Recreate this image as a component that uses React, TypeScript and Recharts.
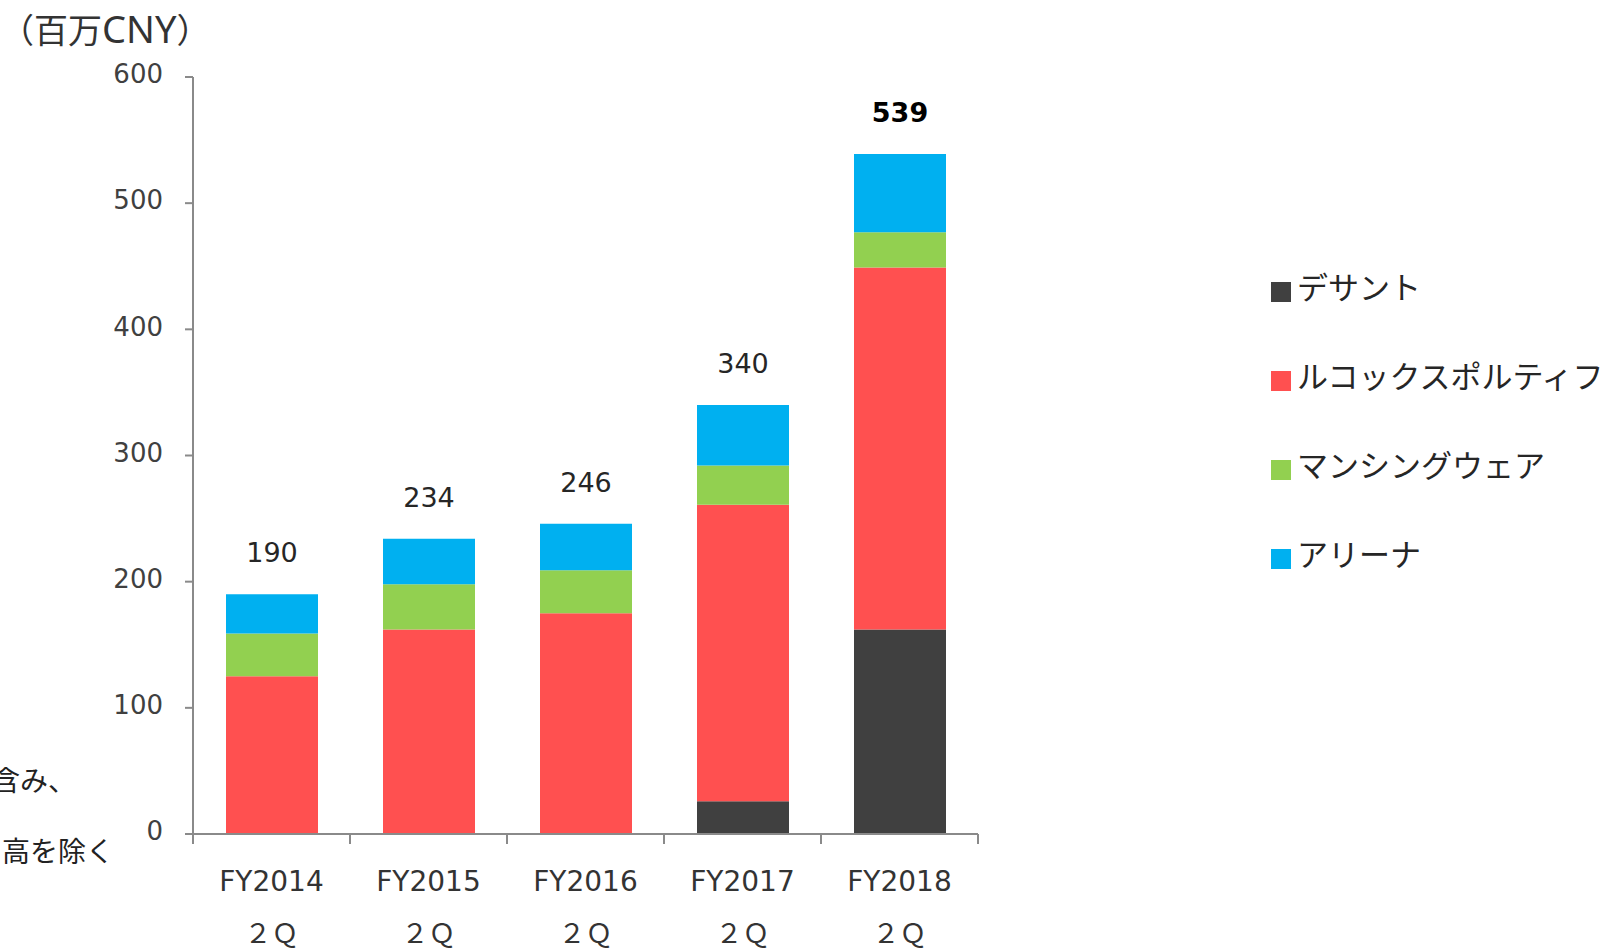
import { BarChart, Bar, XAxis, YAxis, LabelList } from "recharts";

const categories = ["FY2014", "FY2015", "FY2016", "FY2017", "FY2018"];
const quarter = "２Ｑ";

// 百万CNY, stacked bottom → top
const descente = [0, 0, 0, 26, 162];
const lecoq = [125, 162, 175, 235, 287];
const munsingwear = [34, 36, 34, 31, 28];
const arena = [31, 36, 37, 48, 62];
const totals = [190, 234, 246, 340, 539];

const yTicks = [0, 100, 200, 300, 400, 500, 600];

const SERIES = [
  { key: "descente", name: "デサント", color: "#404040", values: descente },
  { key: "lecoq", name: "ルコックスポルティフ", color: "#FF5050", values: lecoq },
  { key: "munsing", name: "マンシングウェア", color: "#92D050", values: munsingwear },
  { key: "arena", name: "アリーナ", color: "#00B0F0", values: arena },
];

const data = categories.map((cat, i) => {
  const row: Record<string, string | number> = { cat, total: totals[i] };
  SERIES.forEach((s) => (row[s.key] = s.values[i]));
  return row;
});

const AXIS = "#8a8a8a";
const LATIN = "'DejaVu Sans', Verdana, sans-serif";
const JP = "'Noto Sans CJK JP', sans-serif";

function CategoryTick(props: any) {
  const { x, y, payload, index, visibleTicksCount } = props;
  const half = payload?.offset ?? 78.5;
  const isLast = index === visibleTicksCount - 1;
  return (
    <g>
      <line x1={x - half} x2={x - half} y1={y} y2={y + 10} stroke={AXIS} strokeWidth={2} />
      {isLast && <line x1={x + half} x2={x + half} y1={y} y2={y + 10} stroke={AXIS} strokeWidth={2} />}
      <text x={x} y={y + 57} textAnchor="middle" fontSize={28} fill="#333" fontFamily={LATIN}>
        {payload.value}
      </text>
      <text x={x} y={y + 109} textAnchor="middle" fontSize={27} fill="#333" fontFamily={JP}>
        {quarter}
      </text>
    </g>
  );
}

function TotalLabel(props: any) {
  const { x, y, width, value, index } = props;
  const last = index === categories.length - 1;
  return (
    <text
      x={x + width / 2}
      y={y - 32}
      textAnchor="middle"
      fontSize={27}
      fontWeight={last ? "bold" : "normal"}
      fill={last ? "#000" : "#262626"}
      fontFamily={LATIN}
    >
      {value}
    </text>
  );
}

export default function App() {
  return (
    <div style={{ position: "fixed", left: 0, top: 0, width: 1607, height: 952, background: "#fff" }}>
      <BarChart
        width={1000}
        height={952}
        data={data}
        margin={{ top: 77, right: 22, bottom: 0, left: 0 }}
        barSize={92}
      >
        <YAxis
          width={193}
          domain={[0, 600]}
          ticks={yTicks}
          interval={0}
          tickSize={8}
          tickMargin={22}
          axisLine={{ stroke: AXIS, strokeWidth: 2 }}
          tickLine={{ stroke: AXIS, strokeWidth: 2 }}
          tick={{ fontSize: 26, fill: "#404040", fontFamily: LATIN, dy: -3 }}
        />
        <XAxis
          dataKey="cat"
          height={118}
          interval={0}
          tickSize={0}
          tickMargin={0}
          axisLine={{ stroke: AXIS, strokeWidth: 2 }}
          tick={<CategoryTick />}
        />
        {SERIES.map((s, i) => (
          <Bar key={s.key} dataKey={s.key} name={s.name} stackId="a" fill={s.color} isAnimationActive={false}>
            {i === SERIES.length - 1 && <LabelList dataKey="total" content={<TotalLabel />} />}
          </Bar>
        ))}
      </BarChart>

      <svg width={1607} height={952} style={{ position: "absolute", left: 0, top: 0, pointerEvents: "none" }}>
        <text x={0} y={43} fontSize={34} fill="#333" fontFamily={JP}>
          （百万
          <tspan fontFamily="'Noto Sans', sans-serif" fontSize={38}>
            CNY
          </tspan>
          ）
        </text>
        <text x={76} y={791} textAnchor="end" fontSize={28} fill="#222" fontFamily={JP}>
          含み、
        </text>
        <text x={114} y={862} textAnchor="end" fontSize={28} fill="#222" fontFamily={JP}>
          高を除く
        </text>
        {SERIES.map((s, i) => {
          const cy = 292 + i * 89;
          return (
            <g key={s.key}>
              <rect x={1271} y={cy - 10} width={20} height={20} fill={s.color} />
              <text x={1297} y={cy + 7} fontSize={31} fill="#262626" fontFamily={JP}>
                {s.name}
              </text>
            </g>
          );
        })}
      </svg>
    </div>
  );
}
